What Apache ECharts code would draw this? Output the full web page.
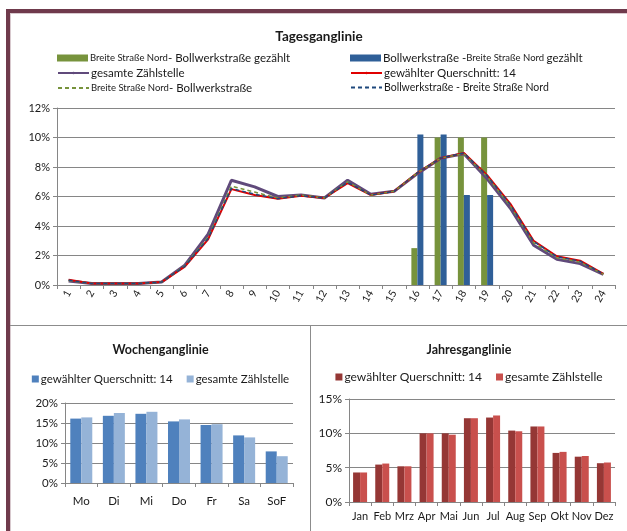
<!DOCTYPE html>
<html>
<head>
<meta charset="utf-8">
<script src="https://cdn.jsdelivr.net/npm/echarts@6/dist/echarts.min.js"></script>
<style>
html,body{margin:0;padding:0;background:#fff;}
#page{position:relative;width:627px;height:531px;overflow:hidden;background:#fff;}
.abs{position:absolute;}
</style>
</head>
<body>
<div id="page">
  <div class="abs" style="left:6px;top:9px;width:621px;height:4px;background:#6f3a4c;"></div>
  <div class="abs" style="left:6px;top:9px;width:4px;height:522px;background:#6f3a4c;"></div>
  <div class="abs" style="left:10px;top:13px;width:617px;height:1px;background:#d8c9ce;"></div>
  <div class="abs" style="left:10px;top:13px;width:1px;height:518px;background:#d8c9ce;"></div>
  <div class="abs" style="left:10px;top:325px;width:617px;height:1px;background:#8c8c8c;"></div>
  <div class="abs" style="left:310px;top:325px;width:1px;height:206px;background:#8c8c8c;"></div>
  <div id="c1" class="abs" style="left:11px;top:14px;width:616px;height:311px;"></div>
  <div id="c2" class="abs" style="left:11px;top:326px;width:299px;height:205px;"></div>
  <div id="c3" class="abs" style="left:311px;top:326px;width:316px;height:205px;"></div>
</div>
<script>
// ---------- data ----------
const hours = ['1','2','3','4','5','6','7','8','9','10','11','12','13','14','15','16','17','18','19','20','21','22','23','24'];
const barBreiteBollwerk = [null,null,null,null,null,null,null,null,null,null,null,null,null,null,null,2.5,10.0,10.0,10.0,null,null,null,null,null];
const barBollwerkBreite = [null,null,null,null,null,null,null,null,null,null,null,null,null,null,null,10.2,10.2,6.1,6.1,null,null,null,null,null];
const dayGesamt = [0.27,0.1,0.1,0.1,0.2,1.35,3.45,7.1,6.65,6.0,6.1,5.9,7.1,6.15,6.35,7.55,8.6,8.9,7.2,5.2,2.7,1.75,1.45,0.72];
const dayQuer = [0.35,0.1,0.1,0.1,0.2,1.25,3.1,6.5,6.1,5.85,6.05,5.9,6.9,6.1,6.35,7.6,8.6,8.95,7.45,5.5,3.0,1.95,1.65,0.75];
const dayBreiteBollwerk = [0.3,0.1,0.1,0.1,0.2,1.3,3.25,6.7,6.3,5.9,6.1,5.9,7.0,6.1,6.35,7.6,8.6,8.9,7.35,5.35,2.85,1.85,1.55,0.73];
const dayBollwerkBreite = [0.33,0.1,0.1,0.1,0.2,1.27,3.15,6.55,6.15,5.85,6.05,5.9,6.95,6.1,6.35,7.6,8.6,8.95,7.4,5.45,2.95,1.92,1.62,0.74];
const yTicksDay = [0, 12, 2];

const weekdays = ['Mo','Di','Mi','Do','Fr','Sa','SoF'];
const weekQuer = [16.1,16.8,17.3,15.4,14.5,11.9,7.9];
const weekGesamt = [16.4,17.5,17.8,15.9,14.7,11.4,6.7];
const yTicksWeek = [0, 20, 5];

const months = ['Jan','Feb','Mrz','Apr','Mai','Jun','Jul','Aug','Sep','Okt','Nov','Dez'];
const monthQuer = [4.3,5.45,5.2,10.0,10.0,12.2,12.3,10.4,11.0,7.15,6.6,5.65];
const monthGesamt = [4.3,5.6,5.2,10.0,9.8,12.2,12.6,10.3,11.0,7.3,6.7,5.75];
const yTicksMonth = [0, 15, 5];

// ---------- styles ----------
const FONT = 'Lato, "Liberation Sans", sans-serif';
const AX = '#868686';
const TXT = '#1a1a1a';

function valueAxis(t, fs){
  return {
    type:'value', min:t[0], max:t[1], interval:t[2],
    axisLine:{show:true, lineStyle:{color:AX}},
    axisTick:{show:true, length:4, lineStyle:{color:AX}},
    splitLine:{show:true, lineStyle:{color:AX, width:1}},
    axisLabel:{formatter:'{value}%', fontSize:fs, color:TXT, fontFamily:FONT, margin:7}
  };
}
function catAxis(data, label){
  return {
    type:'category', data:data, boundaryGap:true,
    axisLine:{show:true, lineStyle:{color:AX}},
    axisTick:{show:true, length:4, alignWithLabel:false, interval:0, lineStyle:{color:AX}},
    axisLabel:Object.assign({color:TXT, fontFamily:FONT, interval:0, hideOverlap:false}, label)
  };
}

// ---------- top chart ----------
const nGreen = 'Breite Straße Nord- Bollwerkstraße gezählt';
const nBlue = 'Bollwerkstraße -Breite Straße Nord gezählt';
const nPurple = 'gesamte Zählstelle';
const nRed = 'gewählter Querschnitt: 14';
const nGreenD = 'Breite Straße Nord- Bollwerkstraße';
const nBlueD = 'Bollwerkstraße - Breite Straße Nord';
const richLeg = {
  s:{fontSize:9.5, fontFamily:FONT, color:TXT},
  b:{fontSize:11.5, fontFamily:FONT, color:TXT},
  m:{fontSize:10.5, fontFamily:FONT, color:TXT}
};
const legFmt = {};
legFmt[nGreen] = '{s|Breite Straße Nord}{b|- Bollwerkstraße gezählt}';
legFmt[nBlue] = '{b|Bollwerkstraße -}{s|Breite Straße Nord }{b|gezählt}';
legFmt[nPurple] = '{b|gesamte Zählstelle}';
legFmt[nRed] = '{b|gewählter Querschnitt: 14}';
legFmt[nGreenD] = '{s|Breite Straße Nord}{b|- Bollwerkstraße}';
legFmt[nBlueD] = '{m|Bollwerkstraße - Breite Straße Nord}';
function leg(name, left, top, h, icon){
  const o = {data:[name], left:left, top:top, itemWidth:31, itemHeight:h, itemGap:0,
    padding:0, selectedMode:false,
    formatter:function(n){return legFmt[n];},
    textStyle:{rich:richLeg, padding:[0,0,0,-3]}};
  if (icon) o.icon = icon;
  return o;
}
const c1 = echarts.init(document.getElementById('c1'), null, {renderer:'canvas'});
c1.setOption({
  animation:false,
  title:{text:'Tagesganglinie', left:'center', top:11,
    textStyle:{fontSize:13.5, fontWeight:'bold', fontFamily:FONT, color:TXT}},
  legend:[
    leg(nGreen, 46, 38, 7, 'rect'), leg(nBlue, 339, 38, 7, 'rect'),
    leg(nPurple, 46, 53, 3), leg(nRed, 339, 53, 3),
    leg(nGreenD, 46, 68, 2), leg(nBlueD, 339, 68, 2)
  ],
  grid:{left:46, right:12, top:94, height:177},
  xAxis:catAxis(hours, {fontSize:10.5, rotate:60, margin:6}),
  yAxis:valueAxis(yTicksDay, 11),
  series:[
    {name:nGreen, type:'bar', data:barBreiteBollwerk, barWidth:6, barGap:'0%', itemStyle:{color:'#77933c'}},
    {name:nBlue, type:'bar', data:barBollwerkBreite, barWidth:6, barGap:'0%', itemStyle:{color:'#2f5f98'}},
    {name:nPurple, type:'line', data:dayGesamt, symbol:'none', lineStyle:{color:'#604a7b', width:3}, itemStyle:{color:'#604a7b'}},
    {name:nRed, type:'line', data:dayQuer, symbol:'none', lineStyle:{color:'#e00000', width:2}, itemStyle:{color:'#e00000'}},
    {name:nGreenD, type:'line', data:dayBreiteBollwerk, symbol:'none', lineStyle:{color:'#77933c', width:1.5, type:[4,3]}, itemStyle:{color:'#77933c'}},
    {name:nBlueD, type:'line', data:dayBollwerkBreite, symbol:'none', lineStyle:{color:'#1f497d', width:1.5, type:[4,3]}, itemStyle:{color:'#1f497d'}}
  ]
});

// ---------- bottom left ----------
const c2 = echarts.init(document.getElementById('c2'));
c2.setOption({
  animation:false,
  title:{text:'Wochenganglinie', left:'center', top:12,
    textStyle:{fontSize:12.5, fontWeight:'bold', fontFamily:FONT, color:TXT}},
  legend:{left:'center', top:42, icon:'rect', itemWidth:7, itemHeight:7, itemGap:14, selectedMode:false,
    textStyle:{fontSize:11.5, fontFamily:FONT, color:TXT, padding:[0,0,0,-3]}},
  grid:{left:54, right:17, top:77, bottom:48},
  xAxis:catAxis(weekdays, {fontSize:11.5, margin:12}),
  yAxis:valueAxis(yTicksWeek, 11.5),
  series:[
    {name:'gewählter Querschnitt: 14', type:'bar', data:weekQuer, barWidth:11, barGap:'0%', itemStyle:{color:'#4f81bd'}},
    {name:'gesamte Zählstelle', type:'bar', data:weekGesamt, barWidth:11, barGap:'0%', itemStyle:{color:'#95b3d7'}}
  ]
});

// ---------- bottom right ----------
const c3 = echarts.init(document.getElementById('c3'));
c3.setOption({
  animation:false,
  title:{text:'Jahresganglinie', left:'center', top:12,
    textStyle:{fontSize:12.5, fontWeight:'bold', fontFamily:FONT, color:TXT}},
  legend:{left:'center', top:40, icon:'rect', itemWidth:7, itemHeight:7, itemGap:14, selectedMode:false,
    textStyle:{fontSize:12, fontFamily:FONT, color:TXT, padding:[0,0,0,-3]}},
  grid:{left:38, right:12, top:73, bottom:29},
  xAxis:catAxis(months, {fontSize:11, margin:9}),
  yAxis:valueAxis(yTicksMonth, 12),
  series:[
    {name:'gewählter Querschnitt: 14', type:'bar', data:monthQuer, barWidth:7, barGap:'0%', itemStyle:{color:'#953735'}},
    {name:'gesamte Zählstelle', type:'bar', data:monthGesamt, barWidth:7, barGap:'0%', itemStyle:{color:'#c9504d'}}
  ]
});
</script>
</body>
</html>
